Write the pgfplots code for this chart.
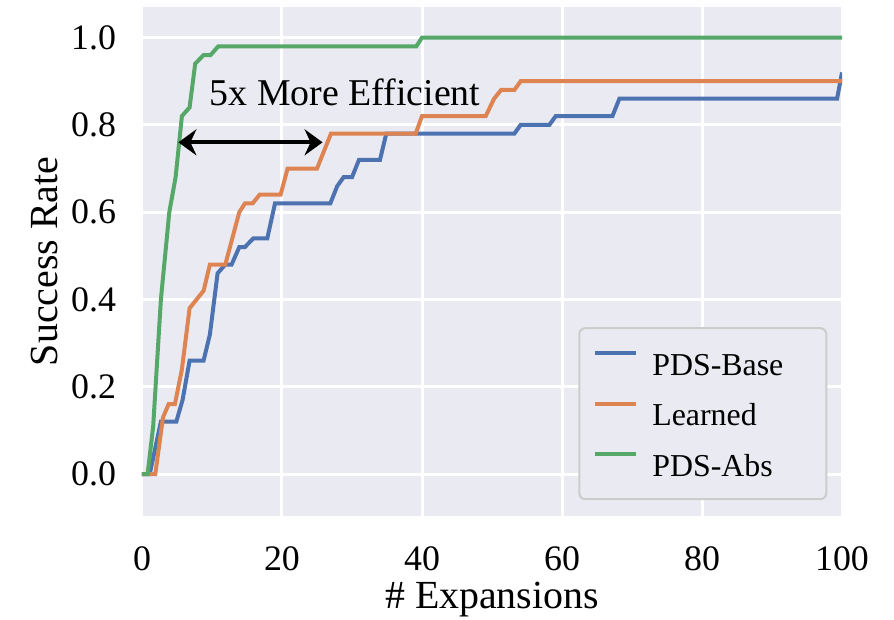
\documentclass[border=0pt]{standalone}
\usepackage{pgfplots}
\pgfplotsset{compat=1.18}
\usepackage{fontspec}
\setmainfont{Liberation Serif}
\usetikzlibrary{arrows.meta}
\definecolor{cBase}{HTML}{4C72B0}
\definecolor{cLearn}{HTML}{DD8452}
\definecolor{cAbs}{HTML}{55A868}
\definecolor{bgpane}{HTML}{EAEAF2}
\definecolor{legedge}{HTML}{CCCCCC}

\begin{document}
\begin{tikzpicture}
\begin{axis}[
  scale only axis,
  width=350bp, height=254.5bp,
  xmin=0, xmax=100, ymin=-0.096, ymax=1.07,
  xtick={0,20,40,60,80,100},
  ytick={0,0.2,0.4,0.6,0.8,1.0},
  /pgf/number format/assume math mode=true,
  axis background/.style={fill=bgpane},
  axis line style={draw=none},
  major tick length=0pt,
  grid=major,
  grid style={white,line width=1.5bp},
  tick label style={font=\fontsize{18}{20}\selectfont},
  xticklabel style={yshift=-12bp},
  yticklabel style={xshift=-9.5bp,/pgf/number format/.cd,fixed,fixed zerofill,precision=1},
  every axis y label/.style={at={(axis description cs:-0.139,0.5)},rotate=90,anchor=center,font=\fontsize{20}{24}\selectfont},
  every axis x label/.style={at={(axis description cs:0.5,-0.165)},anchor=center,font=\fontsize{20}{24}\selectfont},
  xlabel={\# Expansions},
  ylabel={Success Rate},
  legend style={at={(rel axis cs:0.979,0.031)},anchor=south east,
    fill=bgpane, draw=legedge, line width=1bp, rounded corners=3bp,
    font=\fontsize{16}{19}\selectfont,
    nodes={inner sep=0pt, text height=11bp, text depth=0pt},
    row sep=13.25bp, column sep=7bp,
    /tikz/every even column/.append style={text width=80bp},
    inner xsep=7bp, inner ysep=11.5bp},
  legend cell align=left,
  legend image code/.code={\draw[#1,line width=2bp] (0bp,5.5bp) -- (20.5bp,5.5bp);},
  clip=true,
]
\addplot[cBase, line width=2bp] coordinates {
 (0,0) (1.1,0) (2.7,0.12) (4.9,0.12) (5.8,0.17) (6.8,0.26) (8.8,0.26)
 (9.7,0.32) (10.8,0.46) (11.9,0.48) (12.8,0.48) (13.9,0.52) (14.7,0.52)
 (15.9,0.54) (17.9,0.54) (19.0,0.62) (26.9,0.62) (27.9,0.66) (28.8,0.68)
 (30.0,0.68) (31.0,0.72) (34.0,0.72) (34.9,0.78) (53.2,0.78) (54.1,0.80)
 (58.2,0.80) (59.1,0.82) (67.2,0.82) (68.2,0.86) (99.3,0.86) (100,0.92)
};
\addlegendentry{PDS-Base}
\addplot[cLearn, line width=2bp] coordinates {
 (0,0) (1.9,0) (3.0,0.13) (3.8,0.16) (4.7,0.16) (5.7,0.24) (6.8,0.38)
 (8.8,0.42) (9.7,0.48) (11.9,0.48) (13.9,0.60) (14.7,0.62) (15.8,0.62)
 (16.8,0.64) (19.8,0.64) (20.8,0.70) (25.0,0.70) (27.0,0.78) (39.1,0.78)
 (40.0,0.82) (49.1,0.82) (50.3,0.86) (51.3,0.88) (53.2,0.88) (54.1,0.90)
 (100,0.90)
};
\addlegendentry{Learned}
\addplot[cAbs, line width=2bp] coordinates {
 (0,0) (0.8,0) (1.6,0.11) (2.7,0.40) (3.9,0.60) (4.8,0.68) (5.7,0.82)
 (6.8,0.84) (7.6,0.94) (8.8,0.96) (9.8,0.96) (10.9,0.98) (39.2,0.98)
 (40,1.0) (100,1.0)
};
\addlegendentry{PDS-Abs}
\draw[{Stealth[length=9bp,width=13bp,inset=3bp]}-{Stealth[length=9bp,width=13bp,inset=3bp]}, line width=2bp, black]
  (axis cs:5.2,0.76) -- (axis cs:25.8,0.76);
\node[font=\fontsize{19}{22}\selectfont, anchor=center] at (axis cs:29,0.875) {5x More Efficient};
\end{axis}
\pgfresetboundingbox
\path (-71bp,-52bp) rectangle (376bp,258bp);
\end{tikzpicture}
\end{document}
